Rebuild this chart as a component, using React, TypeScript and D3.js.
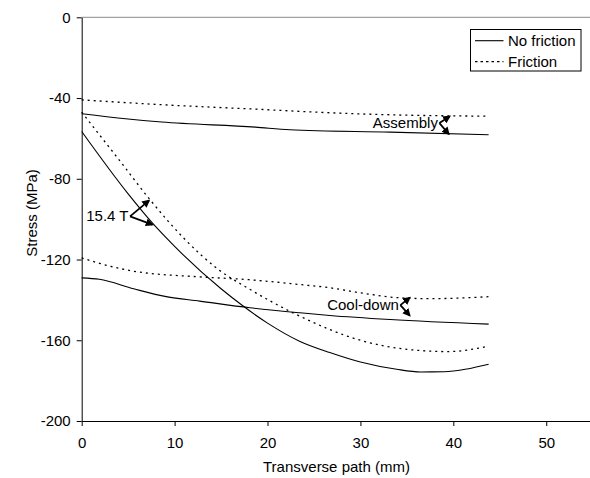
import React, { useEffect, useRef } from 'react';
import * as d3 from 'd3';

// transverse position (mm) and stress (MPa)
const assemblyNoFricX = [0, 3.9, 8.6, 18.7, 22.4, 33.2, 43.8];
const assemblyNoFricY = [-47.8, -49.9, -51.9, -54.4, -55.7, -56.9, -58.2];
const assemblyFricX = [0, 9, 18.7, 27.8, 33.2, 43.8];
const assemblyFricY = [-40.9, -43.4, -45.5, -47.5, -48.3, -49.0];

const fieldNoFricX = [0, 5, 7.6, 10, 15, 17.3, 20, 23.5, 26.7, 30, 33.9, 36.5, 39, 41.5, 43.8];
const fieldNoFricY = [-56.6, -87.5, -101.9, -113.5, -134.5, -142.8, -151.5, -160.6, -166.1, -170.8, -174.4, -175.7, -175.6, -174.2, -171.9];
const fieldFricX = [0, 4, 7.5, 11, 14.7, 18, 23, 30, 35, 39.5, 43.8];
const fieldFricY = [-47, -70.5, -91.2, -109.5, -124.9, -134.5, -147, -160, -164.5, -165.6, -162.9];

const coolNoFricX = [0, 1.9, 5.6, 9.1, 12.7, 18.1, 23.5, 26.7, 33.2, 43.8];
const coolNoFricY = [-129.1, -129.8, -134.5, -138.4, -140.6, -143.9, -146.4, -147.7, -149.7, -152.0];
const coolFricX = [0, 2, 5.6, 12.7, 18, 23.5, 26.7, 30, 34, 37.5, 40, 43.8];
const coolFricY = [-119.2, -122, -125.8, -128.6, -130, -132.4, -134, -136.5, -138.9, -139.4, -139.2, -138.4];

const xTicks = [0, 10, 20, 30, 40, 50];
const yTicks = [0, -40, -80, -120, -160, -200];

const legendLabels = ['No friction', 'Friction'];

// annotation: label, vertex and the two arrow tips (data coords)
const annotations = [
  { label: '15.4 T', vx: 5.2, vy: -98.6, ux: 7.24, uy: -90.8, lx: 7.6, ly: -102.7 },
  { label: 'Assembly', vx: 38.5, vy: -52.4, ux: 39.6, uy: -49.1, lx: 39.5, ly: -57.8 },
  { label: 'Cool-down', vx: 34.3, vy: -142.6, ux: 35.3, uy: -138.9, lx: 35.3, ly: -147.7 },
];

const zip = (xs: number[], ys: number[]) => xs.map((x, i) => ({ x, y: ys[i] }));

const series = [
  { pts: zip(assemblyNoFricX, assemblyNoFricY), dashed: false },
  { pts: zip(assemblyFricX, assemblyFricY), dashed: true },
  { pts: zip(fieldNoFricX, fieldNoFricY), dashed: false },
  { pts: zip(fieldFricX, fieldFricY), dashed: true },
  { pts: zip(coolNoFricX, coolNoFricY), dashed: false },
  { pts: zip(coolFricX, coolFricY), dashed: true },
];

const FONT = "'Liberation Sans', Arial, sans-serif";

const App = () => {
  const svgRef = useRef<SVGSVGElement | null>(null);

  useEffect(() => {
    const width = 590;
    const height = 478;
    const svg = d3.select(svgRef.current).attr('width', width).attr('height', height);
    svg.selectAll('*').remove();

    const x = d3.scaleLinear().domain([0, 55]).range([81.7, 592.7]);
    const y = d3.scaleLinear().domain([-200, 0]).range([421, 17.3]);

    svg.append('defs').append('marker')
      .attr('id', 'arrowhead')
      .attr('viewBox', '0 0 10 10')
      .attr('refX', 8)
      .attr('refY', 5)
      .attr('markerWidth', 4.5)
      .attr('markerHeight', 4.5)
      .attr('orient', 'auto')
      .append('path')
      .attr('d', 'M0,0 L10,5 L0,10 z')
      .attr('fill', 'black');

    // top frame line
    svg.append('line')
      .attr('x1', x(0)).attr('x2', width)
      .attr('y1', y(0)).attr('y2', y(0))
      .attr('stroke', '#8a8a8a')
      .attr('stroke-width', 1);

    const fmt = (d: d3.NumberValue) => String(d);
    const gx = svg.append('g')
      .attr('transform', `translate(0,${y(-200)})`)
      .call(d3.axisBottom(x).tickValues(xTicks).tickFormat(fmt).tickSize(5).tickPadding(11).tickSizeOuter(0));
    const gy = svg.append('g')
      .attr('transform', `translate(${x(0)},0)`)
      .call(d3.axisLeft(y).tickValues(yTicks).tickFormat(fmt).tickSize(5).tickPadding(6).tickSizeOuter(0));

    [gx, gy].forEach(g => {
      g.selectAll('path, line').attr('stroke', '#000');
      g.selectAll('text')
        .attr('fill', '#000')
        .style('font-family', FONT)
        .style('font-size', '15px');
    });

    svg.append('text')
      .attr('x', 336.5)
      .attr('y', 472)
      .attr('text-anchor', 'middle')
      .style('font-family', FONT)
      .style('font-size', '15px')
      .text('Transverse path (mm)');

    svg.append('text')
      .attr('transform', 'translate(37,213) rotate(-90)')
      .attr('text-anchor', 'middle')
      .style('font-family', FONT)
      .style('font-size', '15px')
      .text('Stress (MPa)');

    const line = d3.line<{ x: number; y: number }>()
      .x(d => x(d.x))
      .y(d => y(d.y))
      .curve(d3.curveMonotoneX);

    series.forEach(s => {
      svg.append('path')
        .datum(s.pts)
        .attr('d', line)
        .attr('fill', 'none')
        .attr('stroke', '#000')
        .attr('stroke-width', s.dashed ? 1.3 : 1.1)
        .attr('stroke-dasharray', s.dashed ? '2,4' : null);
    });

    annotations.forEach(a => {
      const g = svg.append('g');
      [[a.ux, a.uy], [a.lx, a.ly]].forEach(([tx, ty]) => {
        g.append('line')
          .attr('x1', x(a.vx)).attr('y1', y(a.vy))
          .attr('x2', x(tx)).attr('y2', y(ty))
          .attr('stroke', '#000')
          .attr('stroke-width', 1.8)
          .attr('marker-end', 'url(#arrowhead)');
      });
      g.append('text')
        .attr('x', x(a.vx) - 1.5)
        .attr('y', y(a.vy) + 5)
        .attr('text-anchor', 'end')
        .style('font-family', FONT)
        .style('font-size', '15px')
        .text(a.label);
    });

    // legend
    const legend = svg.append('g');
    legend.append('rect')
      .attr('x', 470.5).attr('y', 29.5)
      .attr('width', 110.5).attr('height', 41.5)
      .attr('fill', 'white')
      .attr('stroke', '#000');
    legendLabels.forEach((label, i) => {
      const cy = 40.7 + i * 21;
      legend.append('line')
        .attr('x1', 475).attr('x2', 503.5)
        .attr('y1', cy).attr('y2', cy)
        .attr('stroke', '#000')
        .attr('stroke-width', i ? 1.3 : 1.1)
        .attr('stroke-dasharray', i ? '2.5,3' : null);
      legend.append('text')
        .attr('x', 508)
        .attr('y', cy + 5.3)
        .style('font-family', FONT)
        .style('font-size', '15px')
        .text(label);
    });
  }, []);

  return (
    <svg ref={svgRef} style={{ position: 'absolute', left: 0, top: 0, width: 590, height: 478 }}></svg>
  );
};

export default App;
